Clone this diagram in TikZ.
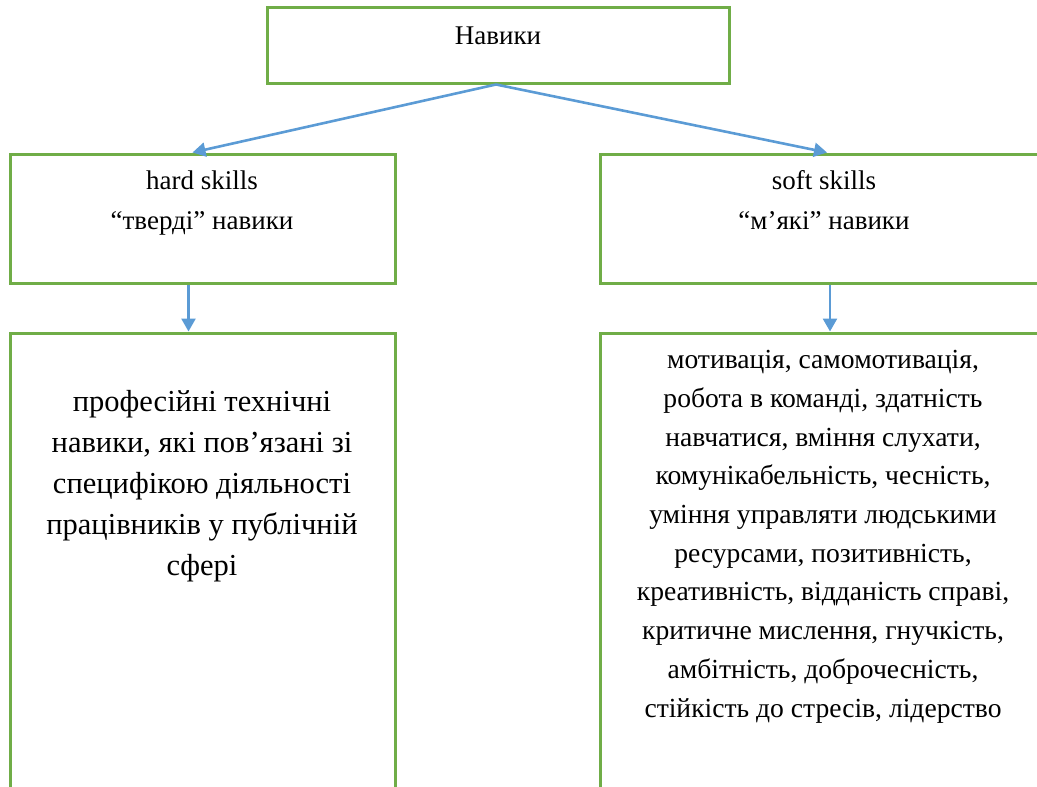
\documentclass[tikz,border=0pt]{standalone}
\usepackage{fontspec}
\setmainfont{Liberation Serif}
\usetikzlibrary{arrows.meta, positioning}
\definecolor{skillgreen}{HTML}{70AD47}
\definecolor{skillblue}{HTML}{5B9BD5}

\begin{document}
\begin{tikzpicture}[
  x=1pt, y=-1pt,
  box/.style={draw=skillgreen, line width=3pt, inner sep=0pt, fill=white},
  txt/.style={align=center, anchor=base, inner sep=0pt, font=\fontsize{27}{40}\selectfont},
  listtxt/.style={align=center, anchor=base, inner sep=0pt, font=\fontsize{27.6}{38.7}\selectfont},
  arr/.style={-{Triangle[length=13pt, width=14pt]}, draw=skillblue, line width=2.6pt}
]
\useasboundingbox (0,0) rectangle (1037,787);
\clip (0,0) rectangle (1037,787);

\node[box, minimum width=462pt, minimum height=76pt] (top) at (498,45) {};
\node[box, minimum width=385pt, minimum height=129pt] (hard) at (202.5,218.5) {};
\node[box, minimum width=448pt, minimum height=129pt] (soft) at (824,218.5) {};
\node[box, minimum width=385pt, minimum height=520pt] (hardlist) at (202.5,593) {};
\node[box, minimum width=448pt, minimum height=520pt] (softlist) at (824,593) {};

% base anchor sits on the last line
\node[txt] (toplbl) at (498,44) {Навики};
\node[txt] (hardlbl) at (202,229) {hard skills\\“тверді” навики};
\node[txt] (softlbl) at (824,229) {soft skills\\“м’які” навики};
\node[listtxt, font=\fontsize{30.5}{41}\selectfont] (hardtxt) at (202,575) {професійні технічні\\навики, які пов’язані зі\\специфікою діяльності\\працівників у публічній\\сфері};
\node[listtxt] (softtxt) at (823,717) {мотивація, самомотивація,\\робота в команді, здатність\\навчатися, вміння слухати,\\комунікабельність, чесність,\\уміння управляти людськими\\ресурсами, позитивність,\\креативність, відданість справі,\\критичне мислення, гнучкість,\\амбітність, доброчесність,\\стійкість до стресів, лідерство};

\draw[arr] ([xshift=-2pt]top.south) -- ([xshift=-10pt]hard.north);
\draw[arr] ([xshift=-2pt]top.south) -- ([xshift=3pt]soft.north);
\draw[arr] ([xshift=-14pt]hard.south) -- ([xshift=-14pt]hardlist.north);
\draw[arr] ([xshift=6pt]soft.south) -- ([xshift=6pt]softlist.north);
\end{tikzpicture}
\end{document}
